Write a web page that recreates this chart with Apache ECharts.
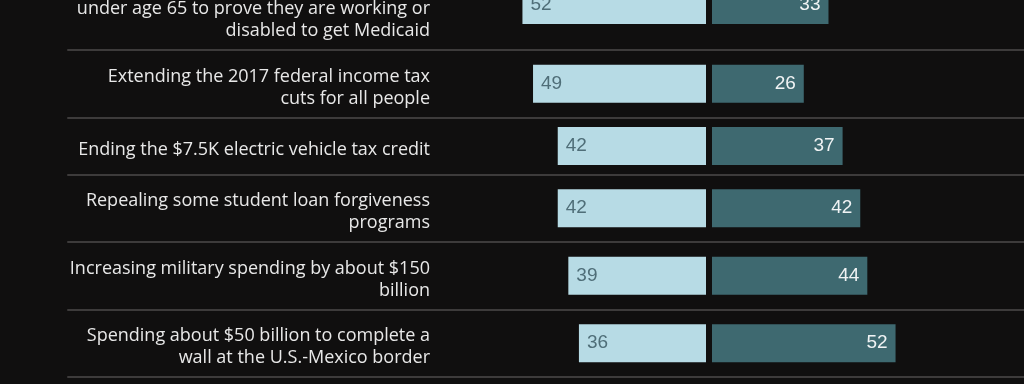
<!DOCTYPE html>
<html>
<head>
<meta charset="utf-8">
<script src="https://cdn.jsdelivr.net/npm/echarts@6/dist/echarts.min.js"></script>
<style>
html,body{margin:0;padding:0;background:#100f0f;}
#chart{width:1024px;height:384px;}
</style>
</head>
<body>
<div id="chart"></div>
<script>
const categories = [
  "Requiring adults with no young children\nunder age 65 to prove they are working or\ndisabled to get Medicaid",
  "Extending the 2017 federal income tax\ncuts for all people",
  "Ending the $7.5K electric vehicle tax credit",
  "Repealing some student loan forgiveness\nprograms",
  "Increasing military spending by about $150\nbillion",
  "Spending about $50 billion to complete a\nwall at the U.S.-Mexico border"
];
const support = [52, 49, 42, 42, 39, 36];
const oppose = [33, 26, 37, 42, 44, 52];

const FONT = "Open Sans";
const NUMFONT = "Liberation Sans";
const LIGHT = "#b7dbe5";
const DARK = "#3e6970";
const SCALE_MAX = 80;
const PX_PER_UNIT = 3.53;
const CENTER_LEFT = 706, CENTER_RIGHT = 712;
const TEXT_SHIFT = 4;

const grids = [], xAxes = [], yAxes = [], series = [];
function addGrid(g) {
  grids.push(Object.assign({outerBoundsMode: 'none', containLabel: false}, g));
  return grids.length - 1;
}
let rowTop = -40;
categories.forEach((cat, i) => {
  const lines = cat.split("\n").length;
  const h = Math.max(57, 22.5 * lines + 22.5);
  const w = SCALE_MAX * PX_PER_UNIT;
  // separator grid
  let gi = addGrid({left: 68, right: 0, top: rowTop, height: h});
  xAxes.push({gridIndex: gi, type: 'value', min: 0, max: 1, position: 'bottom',
    axisLine: {show: true, lineStyle: {color: '#3d3b3b', width: 2}},
    axisTick: {show: false}, axisLabel: {show: false}, splitLine: {show: false}});
  yAxes.push({gridIndex: gi, type: 'category', data: [cat], show: false});
  // label grid
  gi = addGrid({left: 68, right: 0, top: rowTop + TEXT_SHIFT, height: h});
  xAxes.push({gridIndex: gi, type: 'value', min: 0, max: 1, show: false});
  yAxes.push({gridIndex: gi, type: 'category', data: [cat], offset: -370,
    axisLine: {show: false}, axisTick: {show: false}, splitLine: {show: false},
    axisLabel: {color: '#e8e8e8', fontSize: 18, fontFamily: FONT, lineHeight: 22, margin: 8, align: 'right'}});
  // left bars
  gi = addGrid({left: CENTER_LEFT - w, width: w, top: rowTop, height: h});
  xAxes.push({gridIndex: gi, type: 'value', min: -SCALE_MAX, max: 0, show: false});
  yAxes.push({gridIndex: gi, type: 'category', data: [cat], show: false});
  series.push({type: 'bar', name: 'Support', xAxisIndex: gi, yAxisIndex: gi,
    data: [-support[i]], barWidth: 38, itemStyle: {color: LIGHT},
    label: {show: true, position: 'insideLeft', distance: 8, formatter: p => Math.abs(p.value),
      color: '#4f6e78', fontSize: 19, fontFamily: NUMFONT}});
  // right bars
  gi = addGrid({left: CENTER_RIGHT, width: w, top: rowTop, height: h});
  xAxes.push({gridIndex: gi, type: 'value', min: 0, max: SCALE_MAX, show: false});
  yAxes.push({gridIndex: gi, type: 'category', data: [cat], show: false});
  series.push({type: 'bar', name: 'Oppose', xAxisIndex: gi, yAxisIndex: gi,
    data: [oppose[i]], barWidth: 38, itemStyle: {color: DARK},
    label: {show: true, position: 'insideRight', distance: 8,
      color: '#f0f3f4', fontSize: 19, fontFamily: NUMFONT}});
  rowTop += h;
});

const chart = echarts.init(document.getElementById('chart'), null, {renderer: 'canvas'});
chart.setOption({
  backgroundColor: '#100f0f',
  animation: false,
  grid: grids, xAxis: xAxes, yAxis: yAxes, series: series
});
</script>
</body>
</html>
